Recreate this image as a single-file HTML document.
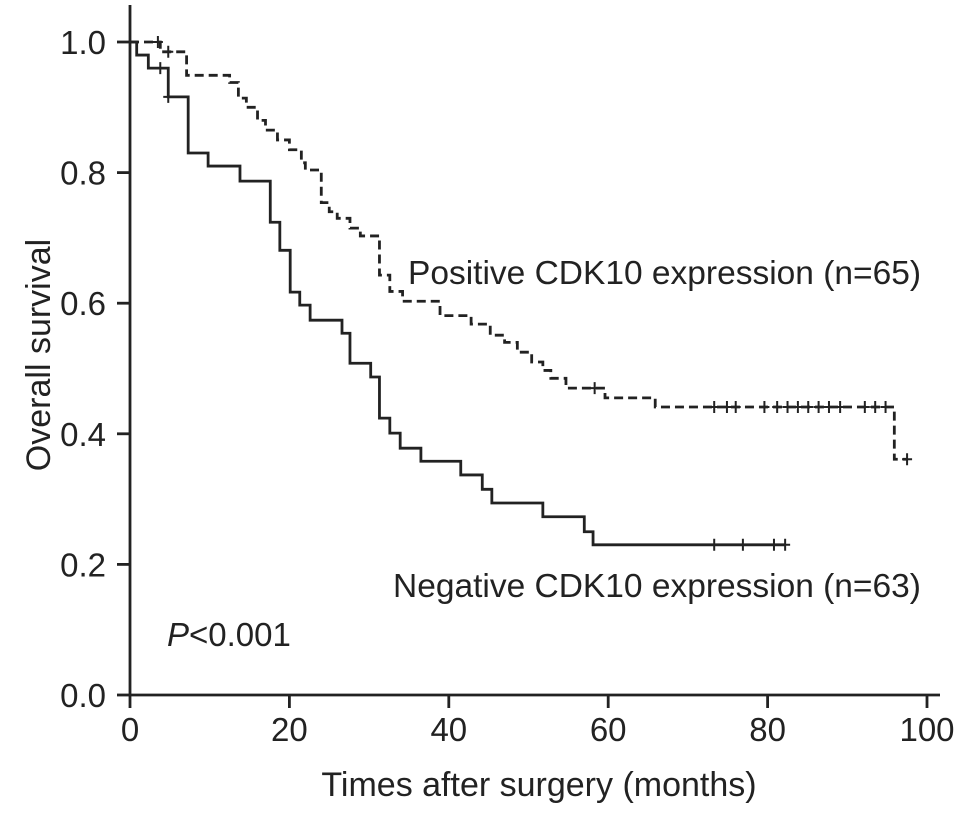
<!DOCTYPE html>
<html><head><meta charset="utf-8"><style>
body{margin:0;background:#fff}
svg text{font-family:"Liberation Sans",Arial,sans-serif;fill:#222}
</style></head><body>
<svg id="chart" width="969" height="815" viewBox="0 0 969 815">
<g id="axes"></g><g id="curves"></g>
<text x="408" y="284" font-size="33.5">Positive CDK10 expression (n=65)</text>
<text x="393" y="597" font-size="33.5">Negative CDK10 expression (n=63)</text>
<text x="167" y="646" font-size="33"><tspan font-style="italic">P</tspan>&lt;0.001</text>
<text x="539" y="796" font-size="34" text-anchor="middle">Times after surgery (months)</text>
<text transform="translate(50,355) rotate(-90)" font-size="34" text-anchor="middle">Overall survival</text>
</svg>
<script>
const xTicks=[0,20,40,60,80,100];
const yTicks=[0,0.2,0.4,0.6,0.8,1.0];
const yTickLabels=["0.0","0.2","0.4","0.6","0.8","1.0"];
const negTimes=[0,0.84,2.3,4.8,7.3,9.8,13.8,17.6,18.8,20.1,21.3,22.6,26.6,27.6,30.2,31.3,32.6,33.9,36.5,41.5,44.2,45.4,51.8,57,58.1];
const negSurv=[1,0.98,0.96,0.916,0.83,0.81,0.787,0.724,0.681,0.617,0.597,0.574,0.554,0.508,0.487,0.424,0.401,0.378,0.358,0.337,0.315,0.294,0.273,0.25,0.23];
const negEnd=82.2;
const negCensor=[3.8,4.8,73.3,76.9,80.8,82.2];
const posTimes=[0,3.8,7.1,12.5,13.6,14.6,16,17,18.5,20,21.5,22,24,25,26,27.6,28.9,31.3,32.6,34.2,38.9,42.8,45.2,47,48.6,50.4,51.8,52.8,54.7,59.6,65.9,95.9];
const posSurv=[1,0.985,0.949,0.938,0.914,0.9,0.88,0.865,0.85,0.835,0.815,0.804,0.754,0.74,0.73,0.715,0.703,0.643,0.618,0.603,0.581,0.568,0.551,0.54,0.525,0.51,0.497,0.485,0.47,0.455,0.441,0.361];
const posEnd=97.5;
const posCensor=[3.5,4.8,58.3,73.3,74.9,76.0,79.6,81.2,82.5,83.8,85.1,86.4,87.7,89.1,92.2,93.5,94.8,97.5];

const NS="http://www.w3.org/2000/svg";
const X=t=>130+t*7.97;
const Y=s=>695-s*653;
function mk(tag,attrs,parent){const e=document.createElementNS(NS,tag);for(const k in attrs)e.setAttribute(k,attrs[k]);parent.appendChild(e);return e;}
const axes=document.getElementById('axes'),curves=document.getElementById('curves');
let e=mk('path',{d:`M130,5V695H940`,fill:'none',stroke:'#222','stroke-width':2.8},axes);


xTicks.forEach(t=>{
 let l=mk('line',{x1:X(t),x2:X(t),y1:695,y2:708,stroke:'#222','stroke-width':2.8},axes);
 
 
 let tx=mk('text',{x:X(t),y:741,'font-size':33,'text-anchor':'middle'},axes);tx.textContent=t;
 
 
});
yTicks.forEach((s,i)=>{
 let l=mk('line',{x1:117,x2:130,y1:Y(s),y2:Y(s),stroke:'#222','stroke-width':2.8},axes);
 
 
 let tx=mk('text',{x:106,y:Y(s)+12,'font-size':33,'text-anchor':'end'},axes);tx.textContent=yTickLabels[i];
 
 
});
function stepPath(ts,ss,end){let d=`M${X(ts[0])},${Y(ss[0])}`;for(let i=1;i<ts.length;i++){d+=`H${X(ts[i])}V${Y(ss[i])}`;}d+=`H${X(end)}`;return d;}
function survAt(ts,ss,t){let s=ss[0];for(let i=0;i<ts.length;i++){if(ts[i]<=t)s=ss[i];}return s;}
let neg=mk('path',{d:stepPath(negTimes,negSurv,negEnd),fill:'none',stroke:'#222','stroke-width':2.8},curves);


let pos=mk('path',{d:stepPath(posTimes,posSurv,posEnd),fill:'none',stroke:'#222','stroke-width':2.8,'stroke-dasharray':'9 5'},curves);


function censor(ts,ss,list,name){list.forEach(t=>{const x=X(t),y=Y(survAt(ts,ss,t));
 let c=mk('path',{d:`M${x},${y-6}V${y+6}M${x-5},${y}H${x+5}`,stroke:'#222','stroke-width':2},curves);
 
 
});}
censor(negTimes,negSurv,negCensor,'negative-censor-mark');
censor(posTimes,posSurv,posCensor,'positive-censor-mark');
</script>
</body></html>
